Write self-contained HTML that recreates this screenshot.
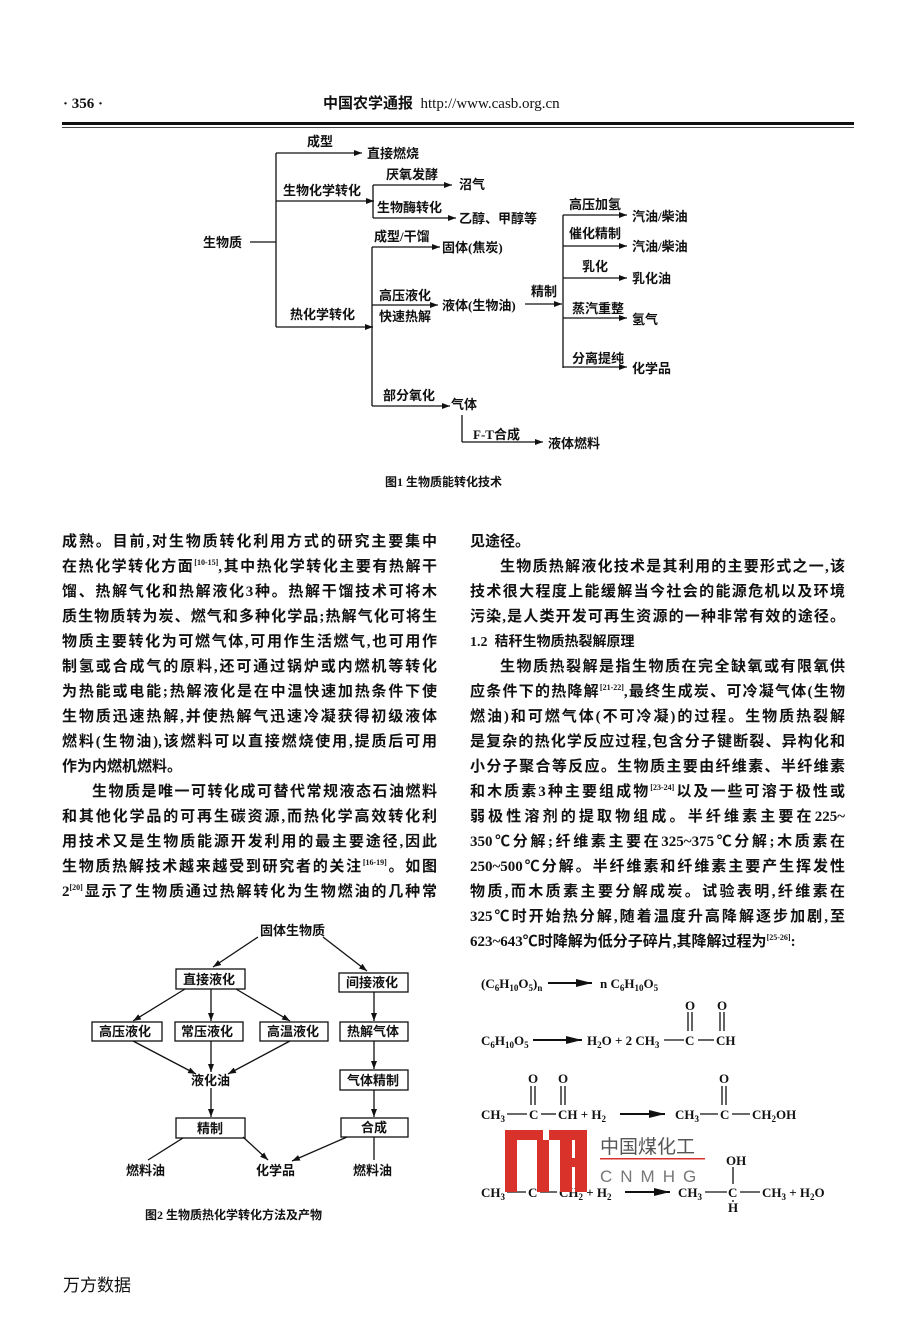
<!DOCTYPE html>
<html><head><meta charset="utf-8">
<style>
html,body{margin:0;padding:0;background:#fff;}
body{width:904px;height:1320px;position:relative;overflow:hidden;font-family:"Liberation Serif","Noto Sans CJK SC",serif;color:#111;}
.t{position:absolute;font-size:15px;line-height:25px;height:25px;white-space:nowrap;font-family:"Liberation Serif","Noto Sans CJK SC",serif;font-weight:bold;}
.j{width:375px;text-align:justify;text-align-last:justify;}
sup{font-size:8px;line-height:0;}
svg{position:absolute;left:0;top:0;}
svg text{font-family:"Liberation Serif","Noto Sans CJK SC",serif;font-weight:bold;fill:#111;}
</style></head><body>

<!-- header -->
<div class="t" style="left:63px;top:92px;font-size:15px;">· 356 ·</div>
<div class="t" style="left:323px;top:92px;font-size:15px;">中国农学通报&nbsp;&nbsp;<span style="font-weight:normal">http://www.casb.org.cn</span></div>
<div style="position:absolute;left:62px;top:122px;width:792px;height:3px;background:#111;"></div>
<div style="position:absolute;left:62px;top:127px;width:792px;height:1px;background:#444;"></div>

<svg width="904" height="1320" viewBox="0 0 904 1320">
<defs>
<marker id="a" markerWidth="8" markerHeight="6" refX="8" refY="3" orient="auto" markerUnits="userSpaceOnUse"><path d="M0,0 L8,3 L0,6 z" fill="#111"/></marker>
<marker id="b" markerWidth="16" markerHeight="8" refX="16" refY="4" orient="auto" markerUnits="userSpaceOnUse"><path d="M0,0 L16,4 L0,8 z" fill="#111"/></marker>
</defs>
<g stroke="#111" stroke-width="1.3" fill="none">
<!-- fig1 -->
<line x1="250" y1="242" x2="276" y2="242"/>
<line x1="276" y1="153" x2="276" y2="327"/>
<line x1="276" y1="153" x2="362" y2="153" marker-end="url(#a)"/>
<line x1="276" y1="201" x2="374" y2="201" marker-end="url(#a)"/>
<line x1="276" y1="327" x2="373" y2="327" marker-end="url(#a)"/>
<line x1="373" y1="185" x2="373" y2="218"/>
<line x1="373" y1="185" x2="452" y2="185" marker-end="url(#a)"/>
<line x1="373" y1="218" x2="456" y2="218" marker-end="url(#a)"/>
<line x1="372" y1="247" x2="372" y2="406"/>
<line x1="372" y1="247" x2="440" y2="247" marker-end="url(#a)"/>
<line x1="372" y1="305" x2="438" y2="305" marker-end="url(#a)"/>
<line x1="372" y1="406" x2="450" y2="406" marker-end="url(#a)"/>
<line x1="462" y1="415" x2="462" y2="442"/>
<line x1="462" y1="442" x2="543" y2="442" marker-end="url(#a)"/>
<line x1="525" y1="304" x2="562" y2="304" marker-end="url(#a)"/>
<line x1="563" y1="215" x2="563" y2="368"/>
<line x1="563" y1="215" x2="627" y2="215" marker-end="url(#a)"/>
<line x1="563" y1="246" x2="627" y2="246" marker-end="url(#a)"/>
<line x1="563" y1="278" x2="627" y2="278" marker-end="url(#a)"/>
<line x1="563" y1="318" x2="627" y2="318" marker-end="url(#a)"/>
<line x1="563" y1="367" x2="627" y2="367" marker-end="url(#a)"/>
<!-- fig2 -->
<line x1="258" y1="937" x2="213" y2="967" marker-end="url(#a)"/>
<line x1="323" y1="937" x2="367" y2="971" marker-end="url(#a)"/>
<rect x="176" y="969" width="69" height="20"/>
<rect x="339" y="973" width="69" height="19"/>
<rect x="92" y="1022" width="70" height="19"/>
<rect x="175" y="1022" width="68" height="19"/>
<rect x="260" y="1022" width="68" height="19"/>
<rect x="340" y="1022" width="68" height="19"/>
<rect x="340" y="1070" width="68" height="20"/>
<rect x="176" y="1118" width="69" height="20"/>
<rect x="341" y="1118" width="67" height="19"/>
<line x1="185" y1="989" x2="133" y2="1021" marker-end="url(#a)"/>
<line x1="211" y1="989" x2="211" y2="1021" marker-end="url(#a)"/>
<line x1="236" y1="989" x2="290" y2="1021" marker-end="url(#a)"/>
<line x1="133" y1="1041" x2="196" y2="1074" marker-end="url(#a)"/>
<line x1="211" y1="1041" x2="211" y2="1072" marker-end="url(#a)"/>
<line x1="290" y1="1041" x2="228" y2="1074" marker-end="url(#a)"/>
<line x1="211" y1="1088" x2="211" y2="1117" marker-end="url(#a)"/>
<line x1="374" y1="992" x2="374" y2="1021" marker-end="url(#a)"/>
<line x1="374" y1="1041" x2="374" y2="1069" marker-end="url(#a)"/>
<line x1="374" y1="1090" x2="374" y2="1117" marker-end="url(#a)"/>
<line x1="183" y1="1138" x2="148" y2="1160"/>
<line x1="243" y1="1137" x2="268" y2="1160" marker-end="url(#a)"/>
<line x1="347" y1="1137" x2="292" y2="1161" marker-end="url(#a)"/>
<line x1="374" y1="1137" x2="374" y2="1160"/>
<!-- chem -->
<line x1="548" y1="983" x2="592" y2="983" stroke-width="2" marker-end="url(#b)"/>
<line x1="533" y1="1040" x2="582" y2="1040" stroke-width="2" marker-end="url(#b)"/>
<line x1="620" y1="1114" x2="665" y2="1114" stroke-width="2" marker-end="url(#b)"/>
<line x1="625" y1="1192" x2="670" y2="1192" stroke-width="2" marker-end="url(#b)"/>
<line x1="664" y1="1040" x2="684" y2="1040"/><line x1="698" y1="1040" x2="714" y2="1040"/>
<line x1="688" y1="1012" x2="688" y2="1031"/><line x1="692" y1="1012" x2="692" y2="1031"/>
<line x1="720" y1="1012" x2="720" y2="1031"/><line x1="724" y1="1012" x2="724" y2="1031"/>
<line x1="507" y1="1114" x2="527" y2="1114"/><line x1="541" y1="1114" x2="556" y2="1114"/>
<line x1="531" y1="1086" x2="531" y2="1105"/><line x1="535" y1="1086" x2="535" y2="1105"/>
<line x1="561" y1="1086" x2="561" y2="1105"/><line x1="565" y1="1086" x2="565" y2="1105"/>
<line x1="700" y1="1114" x2="718" y2="1114"/><line x1="732" y1="1114" x2="750" y2="1114"/>
<line x1="722" y1="1086" x2="722" y2="1105"/><line x1="726" y1="1086" x2="726" y2="1105"/>
<line x1="507" y1="1192" x2="526" y2="1192"/><line x1="540" y1="1192" x2="557" y2="1192"/>
<line x1="705" y1="1192" x2="727" y2="1192"/><line x1="740" y1="1192" x2="760" y2="1192"/>
<line x1="733" y1="1167" x2="733" y2="1184"/><line x1="733" y1="1200" x2="733" y2="1202"/>
</g>
<g font-size="13">
<text x="203" y="247">生物质</text>
<text x="307" y="146">成型</text>
<text x="367" y="158">直接燃烧</text>
<text x="283" y="195">生物化学转化</text>
<text x="386" y="179">厌氧发酵</text>
<text x="459" y="189">沼气</text>
<text x="377" y="212">生物酶转化</text>
<text x="459" y="223">乙醇、甲醇等</text>
<text x="290" y="319">热化学转化</text>
<text x="374" y="241">成型/干馏</text>
<text x="442" y="252">固体(焦炭)</text>
<text x="379" y="300">高压液化</text>
<text x="379" y="321">快速热解</text>
<text x="442" y="310">液体(生物油)</text>
<text x="383" y="400">部分氧化</text>
<text x="451" y="409">气体</text>
<text x="473" y="439">F-T合成</text>
<text x="548" y="448">液体燃料</text>
<text x="531" y="296">精制</text>
<text x="569" y="209">高压加氢</text>
<text x="632" y="221">汽油/柴油</text>
<text x="569" y="238">催化精制</text>
<text x="632" y="251">汽油/柴油</text>
<text x="582" y="271">乳化</text>
<text x="632" y="283">乳化油</text>
<text x="572" y="313">蒸汽重整</text>
<text x="632" y="324">氢气</text>
<text x="572" y="363">分离提纯</text>
<text x="632" y="373">化学品</text>
<text x="385" y="486" font-size="12">图1 生物质能转化技术</text>
<text x="260" y="935">固体生物质</text>
<text x="183" y="984">直接液化</text>
<text x="346" y="987">间接液化</text>
<text x="99" y="1036">高压液化</text>
<text x="181" y="1036">常压液化</text>
<text x="267" y="1036">高温液化</text>
<text x="347" y="1036">热解气体</text>
<text x="191" y="1085">液化油</text>
<text x="347" y="1085">气体精制</text>
<text x="197" y="1133">精制</text>
<text x="361" y="1132">合成</text>
<text x="126" y="1175">燃料油</text>
<text x="256" y="1175">化学品</text>
<text x="353" y="1175">燃料油</text>
<text x="145" y="1219" font-size="12">图2 生物质热化学转化方法及产物</text>
</g>
<g font-size="13" font-weight="normal">
<text x="481" y="988">(C<tspan font-size="9" dy="3">6</tspan><tspan dy="-3">H</tspan><tspan font-size="9" dy="3">10</tspan><tspan dy="-3">O</tspan><tspan font-size="9" dy="3">5</tspan><tspan dy="-3">)</tspan><tspan font-size="9" dy="3">n</tspan></text>
<text x="600" y="988">n C<tspan font-size="9" dy="3">6</tspan><tspan dy="-3">H</tspan><tspan font-size="9" dy="3">10</tspan><tspan dy="-3">O</tspan><tspan font-size="9" dy="3">5</tspan></text>
<text x="481" y="1045">C<tspan font-size="9" dy="3">6</tspan><tspan dy="-3">H</tspan><tspan font-size="9" dy="3">10</tspan><tspan dy="-3">O</tspan><tspan font-size="9" dy="3">5</tspan></text>
<text x="587" y="1045">H<tspan font-size="9" dy="3">2</tspan><tspan dy="-3">O  +  2 CH</tspan><tspan font-size="9" dy="3">3</tspan></text>
<text x="685" y="1045">C</text><text x="716" y="1045">CH</text>
<text x="685" y="1010">O</text><text x="717" y="1010">O</text>
<text x="481" y="1119">CH<tspan font-size="9" dy="3">3</tspan></text>
<text x="529" y="1119">C</text><text x="558" y="1119">CH  + H<tspan font-size="9" dy="3">2</tspan></text>
<text x="528" y="1083">O</text><text x="558" y="1083">O</text>
<text x="675" y="1119">CH<tspan font-size="9" dy="3">3</tspan></text>
<text x="720" y="1119">C</text><text x="752" y="1119">CH<tspan font-size="9" dy="3">2</tspan><tspan dy="-3">OH</tspan></text>
<text x="719" y="1083">O</text>
<text x="481" y="1197">CH<tspan font-size="9" dy="3">3</tspan></text>
<text x="528" y="1197">C</text><text x="559" y="1197">CH<tspan font-size="9" dy="3">2</tspan><tspan dy="-3"> + H</tspan><tspan font-size="9" dy="3">2</tspan></text>
<text x="678" y="1197">CH<tspan font-size="9" dy="3">3</tspan></text>
<text x="728" y="1197">C</text><text x="762" y="1197">CH<tspan font-size="9" dy="3">3</tspan><tspan dy="-3">  +  H</tspan><tspan font-size="9" dy="3">2</tspan><tspan dy="-3">O</tspan></text>
<text x="726" y="1165">OH</text><text x="728" y="1212">H</text>
</g>
<!-- watermark -->
<g fill="#d8322a">
<rect x="505" y="1130" width="12" height="62"/><rect x="505" y="1130" width="38" height="10"/>
<rect x="537" y="1140" width="12" height="52"/><rect x="549" y="1130" width="38" height="10"/>
<rect x="560" y="1140" width="12" height="52"/><rect x="575" y="1130" width="12" height="62"/>
<rect x="560" y="1158" width="27" height="9"/>
<rect x="600" y="1158" width="105" height="1.5"/>
</g>
<text x="600" y="1153" font-size="19" style="font-weight:normal;fill:#555;font-family:'Noto Sans CJK SC',sans-serif">中国煤化工</text>
<text x="600" y="1182" font-size="17" letter-spacing="8" style="font-weight:normal;fill:#777;font-family:'Liberation Sans',sans-serif">CNMHG</text>
</svg>

<!-- left column -->
<div class="t j" style="left:62px;top:530px;">成熟。目前,对生物质转化利用方式的研究主要集中</div>
<div class="t j" style="left:62px;top:555px;">在热化学转化方面<sup>[10-15]</sup>,其中热化学转化主要有热解干</div>
<div class="t j" style="left:62px;top:580px;">馏、热解气化和热解液化3种。热解干馏技术可将木</div>
<div class="t j" style="left:62px;top:605px;">质生物质转为炭、燃气和多种化学品;热解气化可将生</div>
<div class="t j" style="left:62px;top:630px;">物质主要转化为可燃气体,可用作生活燃气,也可用作</div>
<div class="t j" style="left:62px;top:655px;">制氢或合成气的原料,还可通过锅炉或内燃机等转化</div>
<div class="t j" style="left:62px;top:680px;">为热能或电能;热解液化是在中温快速加热条件下使</div>
<div class="t j" style="left:62px;top:705px;">生物质迅速热解,并使热解气迅速冷凝获得初级液体</div>
<div class="t j" style="left:62px;top:730px;">燃料(生物油),该燃料可以直接燃烧使用,提质后可用</div>
<div class="t" style="left:62px;top:755px;">作为内燃机燃料。</div>
<div class="t j" style="left:92px;top:780px;width:345px;">生物质是唯一可转化成可替代常规液态石油燃料</div>
<div class="t j" style="left:62px;top:805px;">和其他化学品的可再生碳资源,而热化学高效转化利</div>
<div class="t j" style="left:62px;top:830px;">用技术又是生物质能源开发利用的最主要途径,因此</div>
<div class="t j" style="left:62px;top:855px;">生物质热解技术越来越受到研究者的关注<sup>[16-19]</sup>。如图</div>
<div class="t j" style="left:62px;top:880px;">2<sup>[20]</sup>显示了生物质通过热解转化为生物燃油的几种常</div>

<!-- right column -->
<div class="t" style="left:470px;top:530px;">见途径。</div>
<div class="t j" style="left:500px;top:555px;width:345px;">生物质热解液化技术是其利用的主要形式之一,该</div>
<div class="t j" style="left:470px;top:580px;">技术很大程度上能缓解当今社会的能源危机以及环境</div>
<div class="t j" style="left:470px;top:605px;">污染,是人类开发可再生资源的一种非常有效的途径。</div>
<div class="t" style="left:470px;top:630px;font-size:14px;">1.2&nbsp;&nbsp;秸秆生物质热裂解原理</div>
<div class="t j" style="left:500px;top:655px;width:345px;">生物质热裂解是指生物质在完全缺氧或有限氧供</div>
<div class="t j" style="left:470px;top:680px;">应条件下的热降解<sup>[21-22]</sup>,最终生成炭、可冷凝气体(生物</div>
<div class="t j" style="left:470px;top:705px;">燃油)和可燃气体(不可冷凝)的过程。生物质热裂解</div>
<div class="t j" style="left:470px;top:730px;">是复杂的热化学反应过程,包含分子键断裂、异构化和</div>
<div class="t j" style="left:470px;top:755px;">小分子聚合等反应。生物质主要由纤维素、半纤维素</div>
<div class="t j" style="left:470px;top:780px;">和木质素3种主要组成物<sup>[23-24]</sup>以及一些可溶于极性或</div>
<div class="t j" style="left:470px;top:805px;">弱极性溶剂的提取物组成。半纤维素主要在225~</div>
<div class="t j" style="left:470px;top:830px;">350℃分解;纤维素主要在325~375℃分解;木质素在</div>
<div class="t j" style="left:470px;top:855px;">250~500℃分解。半纤维素和纤维素主要产生挥发性</div>
<div class="t j" style="left:470px;top:880px;">物质,而木质素主要分解成炭。试验表明,纤维素在</div>
<div class="t j" style="left:470px;top:905px;">325℃时开始热分解,随着温度升高降解逐步加剧,至</div>
<div class="t" style="left:470px;top:930px;">623~643℃时降解为低分子碎片,其降解过程为<sup>[25-26]</sup>:</div>

<div class="t" style="left:63px;top:1273px;font-size:17px;font-weight:normal;font-family:'Liberation Sans','Noto Sans CJK SC',sans-serif;">万方数据</div>
</body></html>
